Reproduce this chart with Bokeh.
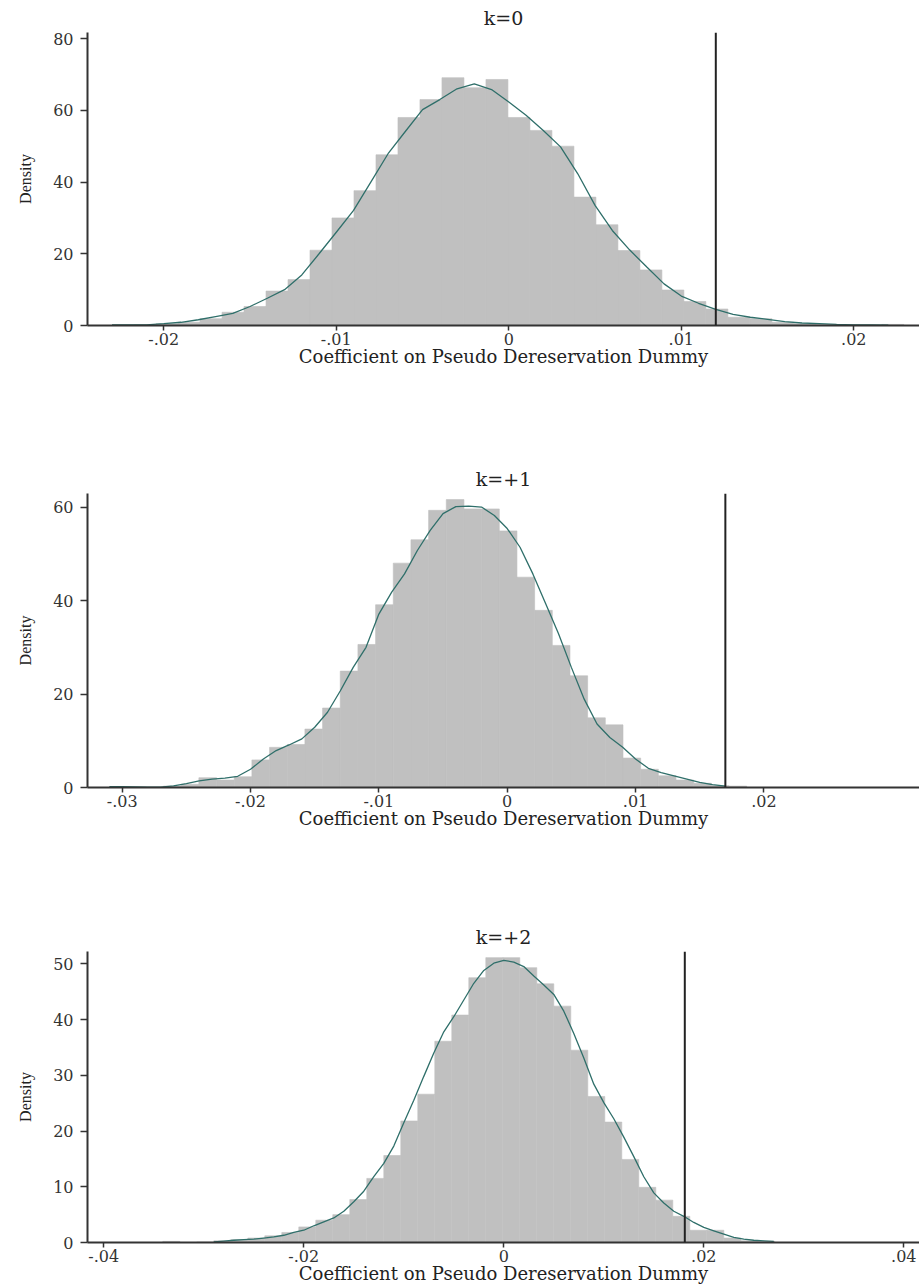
from bokeh.plotting import figure
from bokeh.layouts import column
from bokeh.models import Span, FixedTicker, Range1d, CustomJSTickFormatter
from bokeh.embed import file_html
from bokeh.resources import INLINE

# ---------------- data ----------------
x_label = "Coefficient on Pseudo Dereservation Dummy"
y_label = "Density"

# Panel k=0
k0_title = "k=0"
k0_bin_start = -0.0230
k0_bin_width = 0.001275
k0_density = [0.15, 0.2, 0.5, 0.9, 1.9, 3.7, 5.3, 9.6, 12.8, 21.0, 30.0, 37.6,
              47.6, 58.0, 63.0, 69.1, 66.3, 68.6, 58.0, 54.4, 50.0, 35.8, 28.1, 20.9,
              15.5, 9.9, 6.7, 4.6, 2.3, 1.9, 0.9, 0.5, 0.3, 0.2, 0.1, 0.3]
k0_kde_x = [-0.023, -0.022, -0.021, -0.020, -0.019, -0.018, -0.017, -0.016, -0.015,
            -0.014, -0.013, -0.012, -0.011, -0.010, -0.009, -0.008, -0.007, -0.006,
            -0.005, -0.004, -0.003, -0.002, -0.001, 0.000, 0.001, 0.002, 0.003, 0.004,
            0.005, 0.006, 0.007, 0.008, 0.009, 0.010, 0.011, 0.012, 0.013, 0.014, 0.015,
            0.016, 0.017, 0.018, 0.019, 0.020, 0.021, 0.022]
k0_kde_y = [0.15, 0.2, 0.2, 0.5, 0.9, 1.6, 2.5, 3.4, 5.3, 7.6, 10.0, 14.1, 20.0, 26.0,
            32.1, 40.0, 47.9, 54.1, 60.2, 63.0, 66.0, 67.4, 65.8, 62.3, 58.6, 54.4,
            49.8, 42.3, 33.5, 26.5, 21.1, 16.3, 11.6, 8.2, 6.2, 4.5, 3.1, 2.3, 1.7,
            1.1, 0.7, 0.5, 0.3, 0.2, 0.15, 0.1]
k0_actual = 0.012
k0_xticks = [-0.02, -0.01, 0.0, 0.01, 0.02]
k0_yticks = [0, 20, 40, 60, 80]

# Panel k=+1
k1_title = "k=+1"
k1_bin_start = -0.03091
k1_bin_width = 0.001377
k1_density = [0.1, 0.1, 0.05, 0.3, 0.7, 2.1, 1.6, 2.3, 5.9, 8.6, 9.2, 12.5,
              17.0, 24.9, 30.6, 39.1, 48.0, 53.0, 59.3, 61.6, 59.6, 59.6, 54.9, 45.0,
              37.9, 30.4, 23.9, 14.9, 13.4, 6.3, 3.9, 2.5, 1.6, 0.9, 0.4, 0.3]
k1_kde_x = [-0.031, -0.030, -0.029, -0.028, -0.027, -0.026, -0.025, -0.024, -0.023,
            -0.022, -0.021, -0.020, -0.019, -0.018, -0.017, -0.016, -0.015, -0.014,
            -0.013, -0.012, -0.011, -0.010, -0.009, -0.008, -0.007, -0.006, -0.005,
            -0.004, -0.003, -0.002, -0.001, 0.000, 0.001, 0.002, 0.003, 0.004, 0.005,
            0.006, 0.007, 0.008, 0.009, 0.010, 0.011, 0.012, 0.013, 0.014, 0.015,
            0.016, 0.017]
k1_kde_y = [0.2, 0.2, 0.15, 0.1, 0.1, 0.35, 0.85, 1.4, 1.8, 2.0, 2.4, 3.9, 6.1, 7.9,
            9.1, 10.4, 12.9, 16.1, 20.7, 25.7, 30.0, 37.1, 41.8, 45.7, 50.7, 55.0,
            58.6, 60.1, 60.2, 60.0, 58.2, 55.4, 51.4, 45.7, 39.3, 32.9, 25.7, 18.9,
            13.6, 10.7, 8.6, 6.1, 4.1, 3.2, 2.5, 1.8, 1.1, 0.6, 0.3]
k1_actual = 0.017
k1_xticks = [-0.03, -0.02, -0.01, 0.0, 0.01, 0.02]
k1_yticks = [0, 20, 40, 60]

# Panel k=+2
k2_title = "k=+2"
k2_bin_start = -0.0341
k2_bin_width = 0.0017
k2_density = [0.2, 0.0, 0.1, 0.3, 0.5, 0.8, 1.2, 1.8, 2.8, 4.0, 5.0, 7.7,
              11.5, 15.6, 21.8, 26.6, 36.1, 40.8, 47.5, 51.1, 51.1, 49.3, 46.4, 42.4,
              34.5, 26.2, 21.6, 14.9, 9.9, 7.6, 4.7, 2.2, 2.2, 0.8, 0.3, 0.2]
k2_kde_x = [-0.029, -0.028, -0.027, -0.026, -0.025, -0.024, -0.023, -0.022, -0.021,
            -0.020, -0.019, -0.018, -0.017, -0.016, -0.015, -0.014, -0.013, -0.012,
            -0.011, -0.010, -0.009, -0.008, -0.007, -0.006, -0.005, -0.004, -0.003,
            -0.002, -0.001, 0.000, 0.001, 0.002, 0.003, 0.004, 0.005, 0.006, 0.007,
            0.008, 0.009, 0.010, 0.011, 0.012, 0.013, 0.014, 0.015, 0.016, 0.017,
            0.018, 0.019, 0.020, 0.021, 0.022, 0.023, 0.024, 0.025, 0.026, 0.027]
k2_kde_y = [0.1, 0.25, 0.4, 0.5, 0.6, 0.8, 1.0, 1.3, 1.8, 2.2, 3.0, 3.7, 4.4, 5.6,
            7.3, 9.2, 11.8, 14.2, 17.3, 21.5, 25.5, 29.8, 34.0, 37.8, 40.5, 43.5,
            46.5, 48.8, 50.1, 50.6, 50.3, 49.5, 47.8, 46.2, 44.5, 41.5, 37.5, 33.1,
            28.4, 25.1, 22.2, 18.9, 15.4, 11.8, 8.9, 7.1, 5.6, 4.7, 3.6, 2.7, 2.1,
            1.5, 0.9, 0.6, 0.4, 0.3, 0.2]
k2_actual = 0.0181
k2_xticks = [-0.04, -0.02, 0.0, 0.02, 0.04]
k2_yticks = [0, 10, 20, 30, 40, 50]

# ---------------- styling ----------------
BAR = "#c0c0c0"
KDE = "#2f6f6a"
AXIS = "#333333"
TICK_FONT = "DejaVu Serif"

fmt = CustomJSTickFormatter(code="""
    if (Math.abs(tick) < 1e-12) { return '0'; }
    var s = tick.toFixed(2);
    return s.replace('0.', '.');
""")


def make_panel(title, bin_start, bin_width, dens, kx, ky, actual, xticks, yticks,
               x_lo, x_hi, y_hi, height, b_top, b_bottom):
    p = figure(width=919, height=height, output_backend="svg", toolbar_location=None,
               x_range=Range1d(x_lo, x_hi), y_range=Range1d(0, y_hi),
               min_border_left=87, min_border_right=0,
               min_border_top=b_top, min_border_bottom=b_bottom)
    p.title.text = title
    p.title.align = "center"
    p.title.text_font = "DejaVu Serif"
    p.title.text_font_size = "19px"
    p.title.text_font_style = "normal"
    p.title.text_color = "#222222"
    p.title.standoff = 7

    lefts = [bin_start + i * bin_width for i in range(len(dens))]
    rights = [l + bin_width for l in lefts]
    p.quad(left=lefts, right=rights, bottom=0, top=dens, fill_color=BAR,
           line_color=BAR, line_width=0.6)
    p.line(kx, ky, line_color=KDE, line_width=1.3)
    p.add_layout(Span(location=actual, dimension="height", line_color="#222222", line_width=2))

    p.xgrid.visible = False
    p.ygrid.visible = False
    p.outline_line_color = None
    p.background_fill_color = "white"
    p.border_fill_color = "white"

    for ax in (p.xaxis[0], p.yaxis[0]):
        ax.axis_line_color = AXIS
        ax.axis_line_width = 2
        ax.major_tick_line_color = AXIS
        ax.major_tick_line_width = 1.5
        ax.minor_tick_line_color = None
        ax.major_tick_in = 0
        ax.major_label_text_font = TICK_FONT
        ax.major_label_text_color = "#333333"

    xa = p.xaxis[0]
    xa.ticker = FixedTicker(ticks=xticks)
    xa.formatter = fmt
    xa.major_tick_out = 5
    xa.major_label_standoff = 2
    xa.major_label_text_font_size = "16px"
    xa.axis_label = x_label
    xa.axis_label_text_font = TICK_FONT
    xa.axis_label_text_font_size = "18px"
    xa.axis_label_text_font_style = "normal"
    xa.axis_label_text_color = "#222222"
    xa.axis_label_standoff = -2

    ya = p.yaxis[0]
    ya.ticker = FixedTicker(ticks=yticks)
    ya.major_tick_out = 7
    ya.major_label_standoff = 7
    ya.major_label_text_font_size = "16px"
    ya.major_label_orientation = "horizontal"
    ya.axis_label = y_label
    ya.axis_label_text_font = "Liberation Serif"
    ya.axis_label_text_font_size = "16px"
    ya.axis_label_text_font_style = "normal"
    ya.axis_label_text_color = "#222222"
    ya.axis_label_standoff = 16
    return p


p1 = make_panel(k0_title, k0_bin_start, k0_bin_width, k0_density, k0_kde_x, k0_kde_y,
                k0_actual, k0_xticks, k0_yticks,
                (87 - 508.3) / 17250, (919 - 508.3) / 17250, 81.7, 462, 32, 137)
p2 = make_panel(k1_title, k1_bin_start, k1_bin_width, k1_density, k1_kde_x, k1_kde_y,
                k1_actual, k1_xticks, k1_yticks,
                (87 - 506.7) / 12833, (919 - 506.7) / 12833, 62.9, 458, 31, 133)
p3 = make_panel(k2_title, k2_bin_start, k2_bin_width, k2_density, k2_kde_x, k2_kde_y,
                k2_actual, k2_xticks, k2_yticks,
                (87 - 503.3) / 10000, (919 - 503.3) / 10000, 52.2, 367, 31, 45)

layout = column(p1, p2, p3, spacing=0)

with open("out.html", "w") as f:
    f.write(file_html(layout, INLINE))
